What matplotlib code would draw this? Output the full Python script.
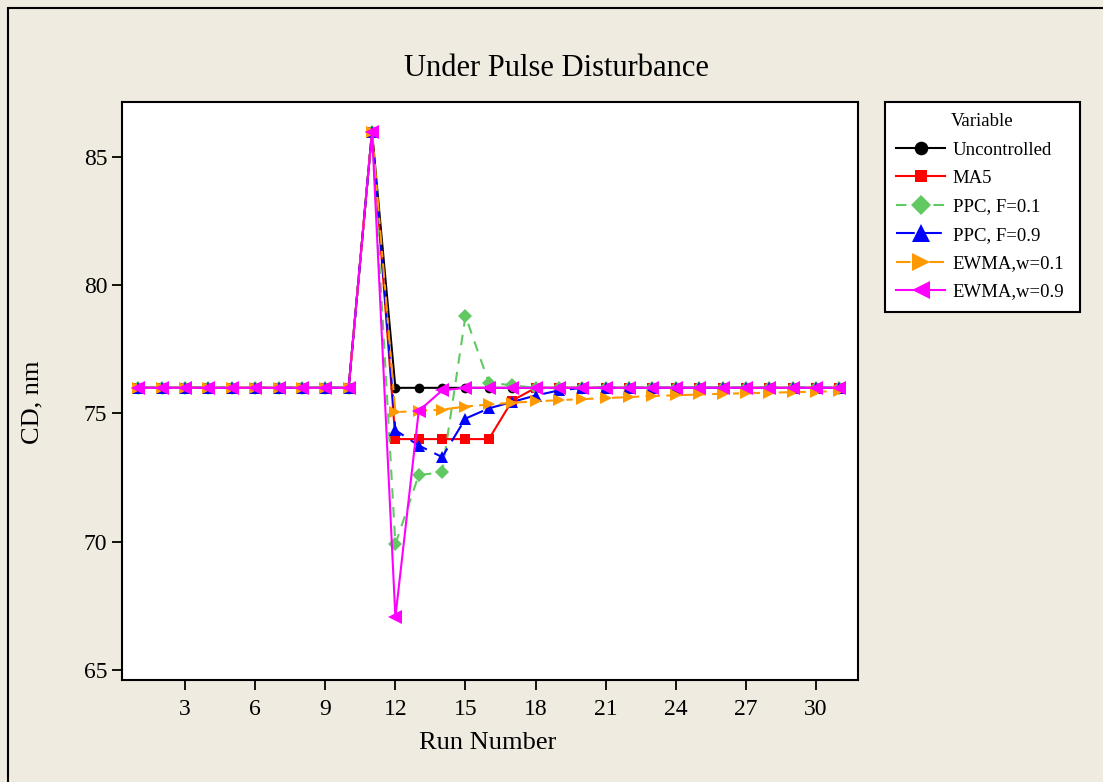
import matplotlib
matplotlib.use("Agg")
import matplotlib.pyplot as plt
from matplotlib.patches import Rectangle

runs = list(range(1, 32))

uncontrolled = [76] * 10 + [86] + [76] * 20
ma5 = [76] * 10 + [86] + [74, 74, 74, 74, 74, 75.5] + [76] * 14
ppc_01 = [76] * 10 + [86] + [69.9, 72.6, 72.7, 78.8, 76.2, 76.1, 76.0] + [76] * 13
ppc_09 = [76] * 10 + [86] + [74.35, 73.75, 73.3, 74.8, 75.2, 75.45, 75.7, 75.9] + [76] * 12
ewma_01 = [76] * 10 + [86] + [75.05, 75.1, 75.15, 75.27, 75.35, 75.42, 75.47, 75.52,
                               75.56, 75.6, 75.64, 75.68, 75.71, 75.74, 75.77, 75.79,
                               75.81, 75.83, 75.85, 75.87]
ewma_09 = [76] * 10 + [86] + [67.05, 75.1, 75.9, 76.0] + [76] * 16

x_ticks = [3, 6, 9, 12, 15, 18, 21, 24, 27, 30]
y_ticks = [65, 70, 75, 80, 85]

series = [
    ("Uncontrolled", uncontrolled, "black", "-", "o", 7),
    ("MA5", ma5, "#ff0000", "-", "s", 6.5),
    ("PPC, F=0.1", ppc_01, "#62c862", (0, (5, 4)), "D", 7.5),
    ("PPC, F=0.9", ppc_09, "#0000ff", (0, (9, 4)), "^", 9),
    ("EWMA,w=0.1", ewma_01, "#ff9900", (0, (7, 3, 3, 3)), ">", 9),
    ("EWMA,w=0.9", ewma_09, "#ff00ff", "-", "<", 9.5),
]

plt.rcParams["font.family"] = ["Liberation Serif", "DejaVu Serif"]

fig = plt.figure(figsize=(11.03, 7.82), dpi=100)
fig.patch.set_facecolor("#efebe0")
fig.patches.append(Rectangle((8 / 1103, -0.02), 1.05, 1 - 8 / 782 + 0.02,
                             transform=fig.transFigure, fill=False,
                             edgecolor="black", linewidth=1.5))

ax = fig.add_axes([0.1106, 0.1304, 0.6673, 0.7391])
ax.set_facecolor("white")

for label, values, color, ls, marker, ms in series:
    ax.plot(runs, values, color=color, linestyle=ls, linewidth=1.5,
            marker=marker, markersize=ms, markeredgewidth=0, label=label)

ax.set_xlim(0.3, 31.8)
ax.set_ylim(64.6, 87.15)
ax.set_xticks(x_ticks)
ax.set_yticks(y_ticks)
ax.tick_params(direction="out", length=7, width=1.3, labelsize=17, colors="black")
ax.tick_params(axis="x", pad=7)
for spine in ax.spines.values():
    spine.set_linewidth(1.5)

fig.text(556 / 1103, 1 - 68 / 782, "Under Pulse Disturbance", fontsize=22,
         ha="center", va="center")
ax.set_xlabel("Run Number", fontsize=19, va="center")
ax.xaxis.set_label_coords(0.497, -0.109)
ax.set_ylabel("CD, nm", fontsize=19, va="center")
ax.yaxis.set_label_coords(-0.122, 0.48)

leg = fig.legend(loc="upper left", bbox_to_anchor=(0.8024, 0.6074, 0.1767, 0.2622),
                 mode="expand", borderaxespad=0, title="Variable", fontsize=13.5,
                 title_fontsize=13.5, fancybox=False, edgecolor="black",
                 framealpha=1, handlelength=2.6, borderpad=0.6,
                 labelspacing=0.6, handletextpad=0.4, markerscale=1.4)
leg.get_frame().set_linewidth(1.5)

fig.savefig("out.png", dpi=100, facecolor=fig.get_facecolor())
